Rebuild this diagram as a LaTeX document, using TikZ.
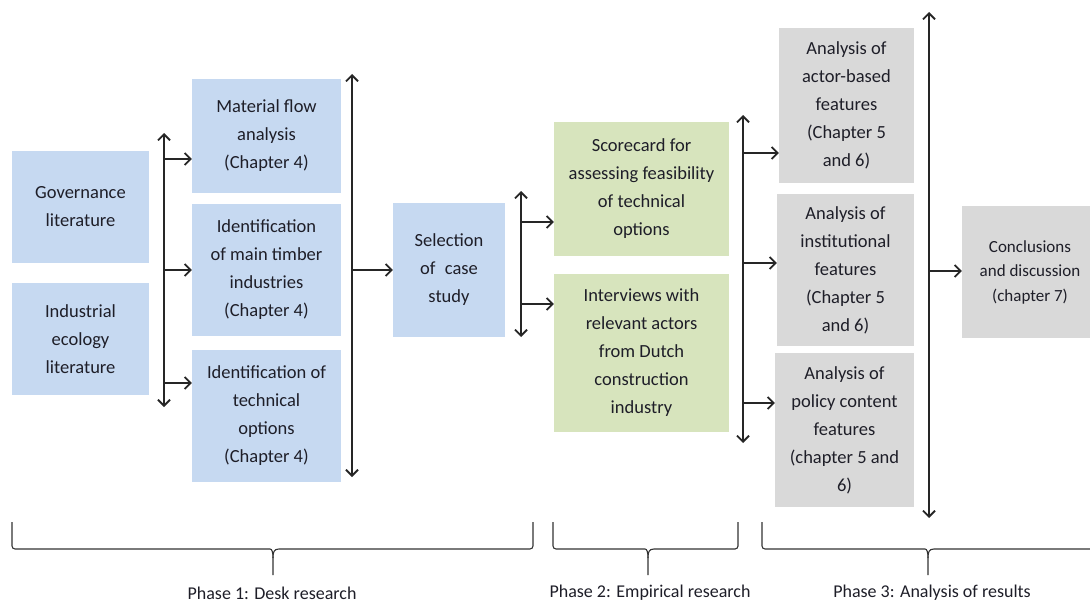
\documentclass[tikz,border=0pt]{standalone}
\usepackage{fontspec}
\setmainfont{Carlito}
\usetikzlibrary{arrows.meta, positioning, calc}
\definecolor{DeskBlue}{HTML}{C6D9F1}
\definecolor{EmpGreen}{HTML}{D7E4BD}
\definecolor{ResGray}{HTML}{D9D9D9}
\definecolor{InkText}{HTML}{1E1E28}

% brace under a phase: left end, tip, right end
\newcommand\phasebrace[3]{%
  \draw[brc] (#1,522) [rounded corners=3pt] |- (#2-6,549) [sharp corners]
    .. controls (#2-1,549) and (#2,552) .. (#2,558) -- (#2,575);
  \draw[brc] (#2,558) .. controls (#2,552) and (#2+1,549) .. (#2+6,549)
    [rounded corners=3pt] -| (#3,522);}

\begin{document}
\begin{tikzpicture}[x=1pt, y=-1pt,
    box/.style={inner sep=0pt, align=center, text=InkText,
      font=\fontsize{18.5}{28}\selectfont},
    deskbox/.style={box, fill=DeskBlue},
    empbox/.style={box, fill=EmpGreen},
    resbox/.style={box, fill=ResGray},
    bar/.style={draw=black!85, line width=1.8pt,
      {Straight Barb[length=6pt,width=12pt]}-{Straight Barb[length=6pt,width=12pt]}},
    feed/.style={draw=black!85, line width=1.8pt, -{Straight Barb[length=6pt,width=12pt]}},
    brc/.style={draw=black!80, line width=1.1pt},
    phase/.style={font=\fontsize{18}{20}\selectfont, text=InkText}]
  \useasboundingbox (0,0) rectangle (1090,602);

  % phase 1
  \node[deskbox, minimum width=137pt, minimum height=112pt] (gov) at (80.5,207)
    {Governance\\literature};
  \node[deskbox, minimum width=137pt, minimum height=112pt] (indeco) at (80.5,339)
    {Industrial\\ecology\\literature};
  \node[deskbox, minimum width=149pt, minimum height=114pt] (mfa) at (266.5,136)
    {Material flow\\analysis\\(Chapter 4)};
  \node[deskbox, minimum width=149pt, minimum height=132pt] (timber) at (266.5,270)
    {Identification\\of main timber\\industries\\(Chapter 4)};
  \node[deskbox, minimum width=149pt, minimum height=132pt] (techopt) at (266.5,416)
    {Identification of\\technical\\options\\(Chapter 4)};
  \node[deskbox, minimum width=112pt, minimum height=134pt] (select) at (449,270)
    {Selection\\of\enspace case\\study};

  % phase 2
  \node[empbox, minimum width=175pt, minimum height=134pt] (score) at (641.5,189)
    {Scorecard for\\assessing feasibility\\of technical\\options};
  \node[empbox, minimum width=175pt, minimum height=158pt] (interv) at (641.5,353)
    {Interviews with\\relevant actors\\from Dutch\\construction\\industry};

  % phase 3
  \node[resbox, minimum width=135pt, minimum height=155pt] (actor) at (846.5,105.5)
    {Analysis of\\actor-based\\features\\(Chapter 5\\and 6)};
  \node[resbox, minimum width=137pt, minimum height=152pt] (inst) at (845.5,270)
    {Analysis of\\institutional\\features\\(Chapter 5\\and 6)};
  \node[resbox, minimum width=139pt, minimum height=154pt] (policy) at (844.5,430)
    {Analysis of\\policy content\\features\\(chapter 5 and\\6)};
  \node[resbox, minimum width=136pt, minimum height=132pt,
        font=\fontsize{17}{24.5}\selectfont] (concl) at (1030,272)
    {Conclusions\\and discussion\\(chapter 7)};

  % bars and feeds
  \draw[bar] (164,133) -- (164,407);
  \coordinate (fa) at (164,159);
  \coordinate (fb) at (164,270);
  \coordinate (fc) at (164,383);
  \draw[feed] (fa) -- (fa -| mfa.west);
  \draw[feed] (fb) -- (fb -| timber.west);
  \draw[feed] (fc) -- (fc -| techopt.west);

  \draw[bar] (352,74) -- (352,477);
  \coordinate (fd) at (352,270);
  \draw[feed] (fd) -- (select.west);

  \draw[bar] (521,191) -- (521,337);
  \coordinate (fe) at (521,222);
  \coordinate (ff) at (521,304);
  \draw[feed] (fe) -- (fe -| score.west);
  \draw[feed] (ff) -- (ff -| interv.west);

  \draw[bar] (743,115) -- (743,443);
  \coordinate (fg) at (743,153);
  \coordinate (fh) at (743,263);
  \coordinate (fi) at (743,403);
  \draw[feed] (fg) -- (fg -| actor.west);
  \draw[feed] (fh) -- (fh -| inst.west);
  \draw[feed] (fi) -- (fi -| policy.west);

  \draw[bar] (929,12) -- (929,518);
  \coordinate (fj) at (929,271);
  \draw[feed] (fj) -- (fj -| concl.west);

  % braces and phase labels
  \phasebrace{12}{273}{533}
  \phasebrace{553}{648}{738}
  \phasebrace{762}{928}{1100}
  \node[phase] (ph1) at (272,593) {Phase 1: Desk research};
  \node[phase] (ph2) at (650,593) {Phase 2: Empirical research};
  \node[phase] (ph3) at (932,593) {Phase 3: Analysis of results};
\end{tikzpicture}
\end{document}
